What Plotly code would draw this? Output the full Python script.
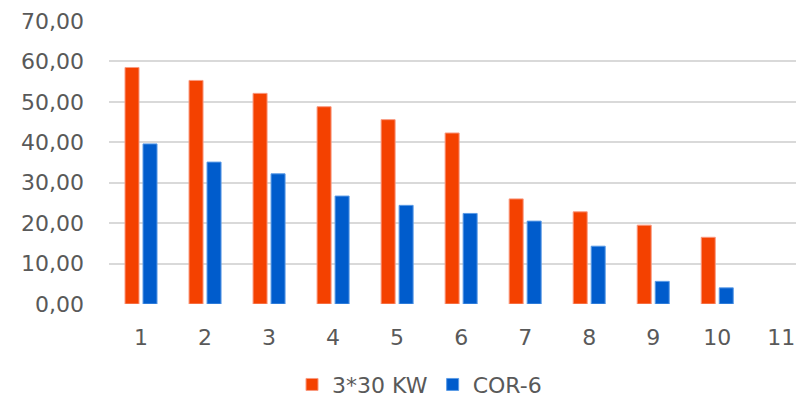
import plotly.graph_objects as go

categories = ["1", "2", "3", "4", "5", "6", "7", "8", "9", "10", "11"]
series_a_name = "3*30 KW"
series_a = [58.5, 55.3, 52.1, 48.8, 45.6, 42.3, 26.0, 22.8, 19.5, 16.5, None]
series_b_name = "COR-6"
series_b = [39.6, 35.1, 32.2, 26.7, 24.4, 22.4, 20.5, 14.3, 5.6, 4.0, None]
y_ticks = [0, 10, 20, 30, 40, 50, 60, 70]
y_tick_labels = ["0,00", "10,00", "20,00", "30,00", "40,00", "50,00", "60,00", "70,00"]

x_pos = list(range(1, len(categories) + 1))

fig = go.Figure()
fig.add_trace(go.Bar(x=x_pos, y=series_a, name=series_a_name,
                     marker=dict(color="#F44100", line=dict(color="#F99A80", width=1))))
fig.add_trace(go.Bar(x=x_pos, y=series_b, name=series_b_name,
                     marker=dict(color="#005CCC", line=dict(color="#5B9BE6", width=1))))

font = dict(family="DejaVu Sans", size=22, color="#595959")
fig.update_layout(
    width=796, height=401,
    margin=dict(l=109, r=0, t=21, b=97, autoexpand=False),
    paper_bgcolor="white", plot_bgcolor="white",
    barmode="group", bargap=0.4375, bargroupgap=0.222,
    font=font,
    showlegend=True,
    legend=dict(orientation="h", x=0.452, xanchor="center", y=-0.285, yanchor="middle",
                font=font, itemwidth=30, traceorder="normal"),
    xaxis=dict(range=[0.5, 11.23], tickmode="array", tickvals=x_pos, ticktext=categories,
               showgrid=False, zeroline=False, showline=False, ticks="", automargin=False,
               tickfont=font, ticklabelstandoff=18),
    yaxis=dict(range=[0, 70], tickmode="array", tickvals=y_ticks, ticktext=y_tick_labels,
               showgrid=True, gridcolor="#D9D9D9", gridwidth=2, zeroline=False, automargin=False,
               showline=False, ticks="", tickfont=font, ticklabelstandoff=24),
)

fig.write_html("out.html", config={"displayModeBar": False},
               post_script="document.body.style.margin='0';document.body.style.overflow='hidden';")
